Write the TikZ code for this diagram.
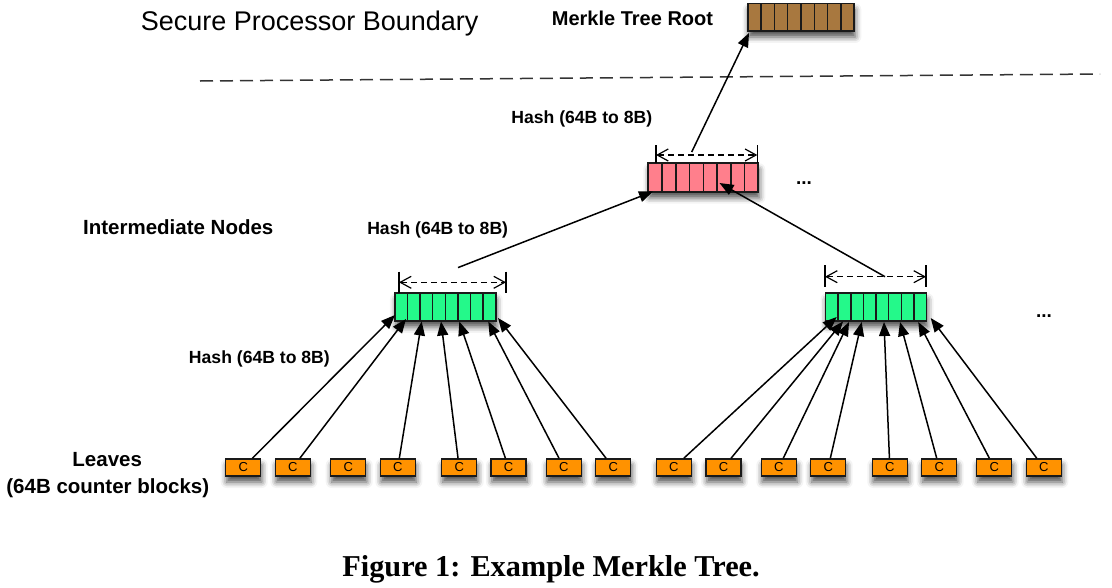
\documentclass[tikz,border=0pt]{standalone}
\usepackage{fontspec}
\setmainfont{Liberation Sans}
\newfontfamily\capfont{Liberation Serif}
\usetikzlibrary{arrows.meta,calc,shadows.blur}
\definecolor{rootc}{HTML}{A8783F}
\definecolor{pinkc}{HTML}{FF7F8C}
\definecolor{greenc}{HTML}{24F98A}
\definecolor{leafc}{HTML}{FF9200}
\definecolor{edgec}{HTML}{1A1A1A}
\tikzset{
  softshadow/.style={blur shadow={shadow xshift=1pt, shadow yshift=-6pt, shadow blur radius=6pt, shadow opacity=70}},
  cellbox/.style={draw=edgec, line width=1.8pt, inner sep=0pt, minimum height=27.5pt, softshadow,
    path picture={\foreach \k in {1,...,7}{\draw[edgec,line width=1.5pt]
      ($(path picture bounding box.south west)!\k/8!(path picture bounding box.south east)$) --
      ($(path picture bounding box.north west)!\k/8!(path picture bounding box.north east)$);}}},
  leafbox/.style={draw=edgec, fill=leafc, line width=1.5pt, minimum width=35pt, minimum height=17pt,
    inner sep=0pt, font=\fontsize{13}{15}\selectfont, softshadow},
  arr/.style={line width=1.5pt, -{Triangle[length=14pt,width=11pt]}},
  bar/.style={line width=1.3pt},
  brk/.style={line width=1.2pt, dash pattern=on 6pt off 4pt, {Straight Barb[length=11pt,width=12pt,line width=1.2pt]}-{Straight Barb[length=11pt,width=12pt,line width=1.2pt]}},
  lbl/.style={inner sep=0pt, anchor=base, font=\bfseries\fontsize{20.5}{24}\selectfont},
  hashl/.style={inner sep=0pt, anchor=base, font=\bfseries\fontsize{17.6}{20}\selectfont},
  dotsl/.style={inner sep=0pt, anchor=base, font=\bfseries\fontsize{19}{22}\selectfont},
}
\begin{document}
\begin{tikzpicture}[x=1pt,y=-1pt]
\useasboundingbox (0,0) rectangle (1112,587);
% boundary
\coordinate (bl) at (200,81);
\coordinate (br) at (1100,74);
\draw[dash pattern=on 13pt off 7pt, line width=1.5pt, black!80] (bl) -- (br);
% texts
\node[inner sep=0pt, anchor=base, font=\fontsize{27}{30}\selectfont] (spb) at (309.7,30) {Secure Processor Boundary};
\node[lbl, font=\bfseries\fontsize{20}{24}\selectfont] (mtr) at (632.5,25) {Merkle Tree Root};
\node[hashl] (h1) at (581.8,123.3) {Hash (64B to 8B)};
\node[hashl] (h2) at (437.7,234.8) {Hash (64B to 8B)};
\node[hashl] (h3) at (259.4,363) {Hash (64B to 8B)};
\node[lbl] (imn) at (178.3,234.5) {Intermediate Nodes};
\node[lbl] (lv1) at (107.2,466.7) {Leaves};
\node[lbl] (lv2) at (107.8,493.3) {(64B counter blocks)};
\node[dotsl] (d1) at (804,184.5) {...};
\node[dotsl] (d2) at (1044,317) {...};
\node[inner sep=0pt, anchor=base, font=\capfont\bfseries\fontsize{30.3}{34}\selectfont] (cap) at (551,576.7) {Figure 1: Example Merkle Tree.};
% boxes
\node[cellbox, fill=rootc, minimum width=106.6pt] (root) at (801,17.2) {};
\node[cellbox, fill=pinkc, minimum width=110pt, minimum height=28.4pt] (pink) at (703.3,177.5) {};
\node[cellbox, fill=greenc, minimum width=100.7pt] (g1) at (445.3,307) {};
\node[cellbox, fill=greenc, minimum width=101pt] (g2) at (876,307) {};
% leaves
\foreach \x [count=\i] in {243.2,292.8,348.2,397.8,459.2,508.5,563.8,613.2}
  \node[leafbox] (a\i) at (\x,467.5) {C};
\foreach \x [count=\i] in {673.8,723.5,778.8,828.2,889.8,939.2,994.2,1043.8}
  \node[leafbox] (b\i) at (\x,467.5) {C};
% leaf arrows
\foreach \i/\tx/\ty in {1/395/315,2/406/319,4/421.7/321.5,5/441/321.5,6/459.3/321.5,7/488.3/321.5,8/498/318}{
  \coordinate (ta\i) at (\tx,\ty);
  \draw[arr] (a\i) -- (ta\i);
}
\foreach \i/\tx/\ty in {1/836.7/317,2/843/321.5,3/849/322,4/861.7/322,5/884/322,6/900/322,7/918.3/322,8/930.7/318}{
  \coordinate (tb\i) at (\tx,\ty);
  \draw[arr] (b\i) -- (tb\i);
}
% brackets
\coordinate (g1l1) at (399,271.7); \coordinate (g1l2) at (399,293);
\coordinate (g1r1) at (506,271.7); \coordinate (g1r2) at (506,293);
\coordinate (g1a) at (399,282.3); \coordinate (g1b) at (506,282.3);
\draw[bar] (g1l1) -- (g1l2); \draw[bar] (g1r1) -- (g1r2);
\draw[brk] (g1a) -- (g1b);
\coordinate (g2l1) at (825,265); \coordinate (g2l2) at (825,287);
\coordinate (g2r1) at (926,265); \coordinate (g2r2) at (926,287);
\coordinate (g2a) at (825,276.7); \coordinate (g2b) at (926,276.7);
\draw[bar] (g2l1) -- (g2l2); \draw[bar] (g2r1) -- (g2r2);
\draw[brk] (g2a) -- (g2b);
\coordinate (pl1) at (656,145.3); \coordinate (pl2) at (656,163);
\coordinate (pr1) at (757.3,145.3); \coordinate (pr2) at (757.3,163);
\coordinate (pa) at (656,155); \coordinate (pb) at (757.3,155);
\draw[bar] (pl1) -- (pl2); \draw[bar] (pr1) -- (pr2);
\draw[brk] (pa) -- (pb);
% upper arrows
\coordinate (s1) at (458,267.6); \coordinate (e1) at (653,191.5);
\coordinate (s2) at (885,276.7); \coordinate (e2) at (719.5,183);
\coordinate (s3) at (691.7,152); \coordinate (e3) at (749,33);
\draw[arr] (s1) -- (e1);
\draw[arr] (s2) -- (e2);
\draw[arr] (s3) -- (e3);
\end{tikzpicture}
\end{document}
